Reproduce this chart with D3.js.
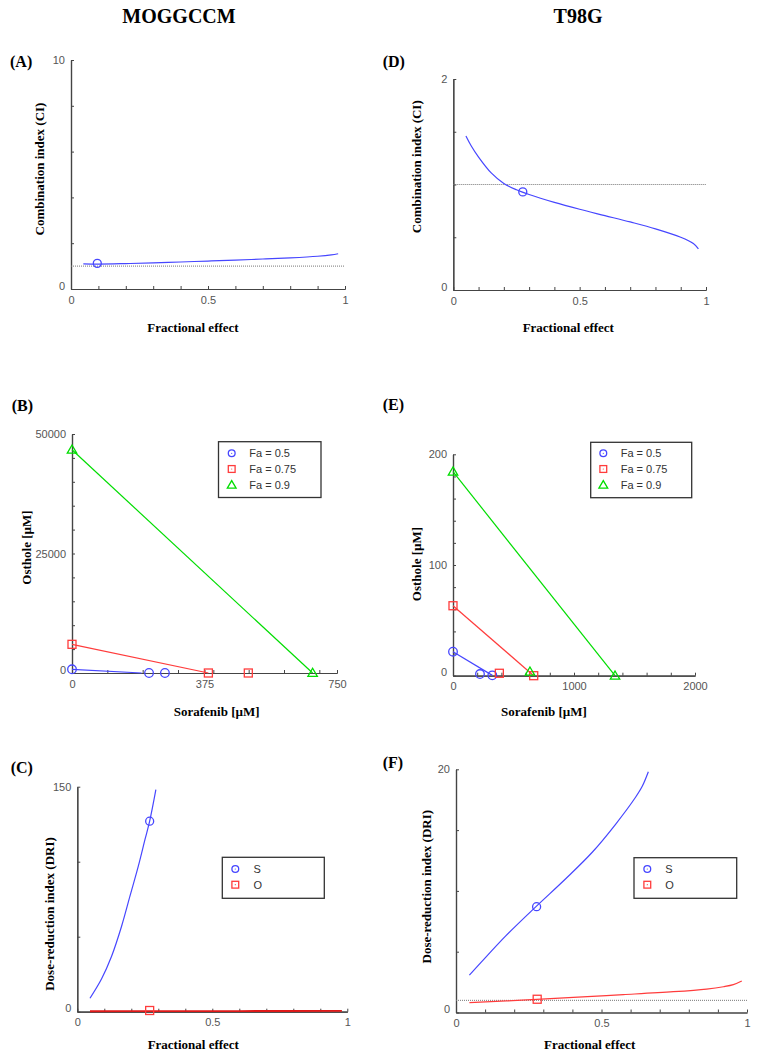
<!DOCTYPE html>
<html><head><meta charset="utf-8">
<script src="https://cdn.jsdelivr.net/npm/d3@7"></script>
<style>
body{margin:0;background:#fff}
svg text{font-family:"Liberation Sans",Arial,sans-serif}
.serif{font-family:"Liberation Serif","Times New Roman",serif;font-weight:bold;fill:#000}
</style></head><body>
<svg id="c" width="760" height="1055"></svg>
<script>
// ---------------- DATA ----------------
const columnTitles = ["MOGGCCM", "T98G"];
const panelLetters = ["(A)", "(B)", "(C)", "(D)", "(E)", "(F)"];
const faLegend = ["Fa = 0.5", "Fa = 0.75", "Fa = 0.9"];
const driLegend = ["S", "O"];

// (A) CI vs Fa, MOGGCCM
const ciA_curve = [[0.045,1.10],[0.1,1.09],[0.2,1.11],[0.3,1.14],[0.4,1.18],[0.5,1.22],[0.6,1.26],[0.7,1.31],[0.8,1.36],[0.9,1.43],[0.95,1.49],[0.975,1.54]];
const ciA_point = [[0.096,1.12]];
// (D) CI vs Fa, T98G
const ciD_curve = [[0.05,1.46],[0.07,1.37],[0.1,1.26],[0.15,1.11],[0.2,1.01],[0.25,0.95],[0.3,0.905],[0.4,0.83],[0.5,0.765],[0.6,0.705],[0.7,0.645],[0.8,0.58],[0.9,0.50],[0.95,0.44],[0.97,0.39]];
const ciD_point = [[0.275,0.93]];

// (B) isobologram MOGGCCM: [sorafenib, osthole]
const isoB_line50 = [[0,770],[197,0]];
const isoB_pts50 = [[0,770],[218,0],[263,0]];
const isoB_line75 = [[0,6000],[386,0]];
const isoB_pts75 = [[0,6000],[386,0],[499,0]];
const isoB_line90 = [[0,46700],[681,0]];
const isoB_pts90 = [[0,46700],[681,0]];

// (E) isobologram T98G
const isoE_line50 = [[0,21.7],[325,0.3]];
const isoE_pts50 = [[0,21.7],[223,1.5],[325,0.3]];
const isoE_line75 = [[0,63.2],[667,0]];
const isoE_pts75 = [[0,63.2],[383,2.2],[667,0]];
const isoE_line90 = [[0,184.3],[1339,0]];
const isoE_pts90 = [[0,184.3],[636,3.6],[1339,0]];

// (C) DRI vs Fa, MOGGCCM
const driC_S = [[0.047,9],[0.09,22],[0.127,37],[0.164,57],[0.195,77],[0.226,97],[0.251,115],[0.268,127],[0.291,148]];
const driC_Spt = [[0.268,127]];
const driC_O = [[0.047,0.3],[0.3,0.4],[0.6,0.45],[0.98,0.5]];
const driC_Opt = [[0.268,0.8]];
// (F) DRI vs Fa, T98G
const driF_S = [[0.046,3.07],[0.086,4.12],[0.171,6.3],[0.274,8.69],[0.377,11.0],[0.469,13.2],[0.549,15.5],[0.617,17.7],[0.64,18.6],[0.661,19.8]];
const driF_Spt = [[0.277,8.7]];
const driF_O = [[0.046,0.81],[0.174,0.95],[0.277,1.08],[0.403,1.25],[0.575,1.47],[0.747,1.71],[0.861,1.93],[0.919,2.12],[0.953,2.29],[0.982,2.59]];
const driF_Opt = [[0.279,1.09]];

// tick values
const faTicks = [0, 0.5, 1];
const faMinor = [0.1,0.2,0.3,0.4,0.6,0.7,0.8,0.9];
const ciA_yTicks = [0, 10], ciA_yMinor = [2,4,6,8];
const ciD_yTicks = [0, 2], ciD_yMinor = [0.5,1,1.5];
const isoB_xTicks = [0, 375, 750], isoB_xMinor = [100,200,300,400,500,600,700];
const isoB_yTicks = [0, 25000, 50000], isoB_yMinor = [5000,10000,15000,20000,30000,35000,40000,45000];
const isoE_xTicks = [0, 1000, 2000], isoE_xMinor = [200,400,600,800,1200,1400,1600,1800];
const isoE_yTicks = [0, 100, 200], isoE_yMinor = [20,40,60,80,120,140,160,180];
const driC_yTicks = [0, 150], driC_yMinor = [50,100];
const driF_yTicks = [0, 20], driF_yMinor = [5,10,15];

// ---------------- DRAW ----------------
const BLUE = "#4646ff", RED = "#ff3c3c", GREEN = "#00dd00";
const AX = "#444", TL = "#555";
const svg = d3.select("#c");

function makeAxes(p) {
  const x = d3.scaleLinear().domain(p.xd).range(p.xr);
  const y = d3.scaleLinear().domain(p.yd).range(p.yr);
  const g = svg.append("g");
  const style = sel => {
    sel.selectAll("path.domain").attr("stroke", AX).attr("stroke-width", 1.2);
    sel.selectAll(".tick line").attr("stroke", AX);
    sel.selectAll(".tick text").attr("fill", TL).attr("font-size", 11)
      .attr("font-family", "'Liberation Sans', Arial, sans-serif");
  };
  g.append("g").attr("transform", `translate(0,${p.yr[0]})`)
    .call(d3.axisBottom(x).tickValues(p.xMinor).tickSizeInner(-3).tickSizeOuter(0).tickFormat(""))
    .call(style);
  g.append("g").attr("transform", `translate(0,${p.yr[0]})`)
    .call(d3.axisBottom(x).tickValues(p.xTicks).tickSizeInner(-3).tickSizeOuter(0).tickPadding(7).tickFormat(d => String(d)))
    .call(style);
  g.append("g").attr("transform", `translate(${p.xr[0]},0)`)
    .call(d3.axisLeft(y).tickValues(p.yMinor).tickSizeInner(-3).tickSizeOuter(0).tickFormat(""))
    .call(style);
  const ya = g.append("g").attr("transform", `translate(${p.xr[0]},0)`)
    .call(d3.axisLeft(y).tickValues(p.yTicks).tickSizeInner(-3).tickSizeOuter(0).tickPadding(6).tickFormat(d => String(d)))
    .call(style);
  ya.selectAll(".tick").filter(d => d === 0).select("text").attr("y", -3.5);
  g.append("text").attr("class", "serif").attr("font-size", 13).attr("text-anchor", "middle")
    .attr("dominant-baseline", "central").attr("x", p.xl[0]).attr("y", p.xl[1]).text(p.xTitle);
  g.append("text").attr("class", "serif").attr("font-size", 13).attr("text-anchor", "middle")
    .attr("dominant-baseline", "central")
    .attr("transform", `translate(${p.yl[0]},${p.yl[1]}) rotate(-90)`).text(p.yTitle);
  g.append("text").attr("class", "serif").attr("font-size", 16)
    .attr("x", p.letterPos[0]).attr("y", p.letterPos[1]).text(p.letter);
  return {x, y, g};
}

function curve(P, data, color, w) {
  P.g.append("path").datum(data).attr("fill", "none").attr("stroke", color).attr("stroke-width", w || 1.2)
    .attr("d", d3.line().x(d => P.x(d[0])).y(d => P.y(d[1])).curve(d3.curveCatmullRom.alpha(0.5)));
}
function straight(P, data, color) {
  P.g.append("path").datum(data).attr("fill", "none").attr("stroke", color).attr("stroke-width", 1.2)
    .attr("d", d3.line().x(d => P.x(d[0])).y(d => P.y(d[1])));
}
function dotted(P, yv) {
  P.g.append("line").attr("x1", P.x(0)).attr("x2", P.x(1)).attr("y1", P.y(yv)).attr("y2", P.y(yv))
    .attr("stroke", "#777").attr("stroke-width", 1).attr("stroke-dasharray", "1,1");
}
function marker(g, type, cx, cy, color, s, dot) {
  if (type === "circle") {
    g.append("circle").attr("cx", cx).attr("cy", cy).attr("r", s).attr("fill", "none").attr("stroke", color).attr("stroke-width", 1.3);
  } else if (type === "square") {
    g.append("rect").attr("x", cx - s).attr("y", cy - s).attr("width", 2 * s).attr("height", 2 * s)
      .attr("fill", "none").attr("stroke", color).attr("stroke-width", 1.3);
  } else {
    g.append("path").attr("d", `M${cx},${cy - s * 1.1}L${cx + s * 1.1},${cy + s * 0.8}L${cx - s * 1.1},${cy + s * 0.8}Z`)
      .attr("fill", "none").attr("stroke", color).attr("stroke-width", 1.3);
  }
  if (dot) g.append("circle").attr("cx", cx).attr("cy", cy).attr("r", 0.6).attr("fill", color);
}
function points(P, data, type, color, s) {
  data.forEach(d => marker(P.g, type, P.x(d[0]), P.y(d[1]), color, s));
}
function legend(box, mx, tx, rows, items) {
  const g = svg.append("g");
  g.append("rect").attr("x", box[0]).attr("y", box[1]).attr("width", box[2] - box[0]).attr("height", box[3] - box[1])
    .attr("fill", "#fff").attr("stroke", "#333").attr("stroke-width", 1.3);
  items.forEach((it, i) => {
    marker(g, it.type, mx, rows[i], it.color, it.type === "triangle" ? 4 : 3.4, it.type !== "triangle");
    g.append("text").attr("x", tx).attr("y", rows[i]).attr("dominant-baseline", "central")
      .attr("font-size", 11).attr("fill", "#333").text(it.label);
  });
}

svg.append("text").attr("class", "serif").attr("font-size", 20).attr("text-anchor", "middle").attr("x", 179).attr("y", 23).text(columnTitles[0]);
svg.append("text").attr("class", "serif").attr("font-size", 20).attr("text-anchor", "middle").attr("x", 578).attr("y", 22.5).text(columnTitles[1]);

// (A)
const PA = makeAxes({xd:[0,1], xr:[71,345], yd:[0,10], yr:[289,60], xTicks:faTicks, xMinor:faMinor,
  yTicks:ciA_yTicks, yMinor:ciA_yMinor, xTitle:"Fractional effect", yTitle:"Combination index (CI)",
  xl:[193,327], yl:[39.5,169], letter:panelLetters[0], letterPos:[10,66.5]});
dotted(PA, 1);
curve(PA, ciA_curve, BLUE);
points(PA, ciA_point, "circle", BLUE, 4);

// (D)
const PD = makeAxes({xd:[0,1], xr:[453.3,706], yd:[0,2], yr:[290,79], xTicks:faTicks, xMinor:faMinor,
  yTicks:ciD_yTicks, yMinor:ciD_yMinor, xTitle:"Fractional effect", yTitle:"Combination index (CI)",
  xl:[568.3,327], yl:[416.7,166.7], letter:panelLetters[3], letterPos:[382.7,66.7]});
dotted(PD, 1);
curve(PD, ciD_curve, BLUE);
points(PD, ciD_point, "circle", BLUE, 4);

// (B)
const PB = makeAxes({xd:[0,750], xr:[72,337], yd:[0,50000], yr:[673,434], xTicks:isoB_xTicks, xMinor:isoB_xMinor,
  yTicks:isoB_yTicks, yMinor:isoB_yMinor, xTitle:"Sorafenib [\u00b5M]", yTitle:"Osthole [\u00b5M]",
  xl:[216.7,711.7], yl:[26,547.5], letter:panelLetters[1], letterPos:[11.7,411]});
straight(PB, isoB_line90, GREEN);
straight(PB, isoB_line75, RED);
straight(PB, isoB_line50, BLUE);
points(PB, isoB_pts50, "circle", BLUE, 4.3);
points(PB, isoB_pts75, "square", RED, 4);
points(PB, isoB_pts90, "triangle", GREEN, 4.3);
legend([218.5,441.7,321,497.5], 231.7, 249.3, [453.3,469,485], [
  {type:"circle", color:BLUE, label:faLegend[0]},
  {type:"square", color:RED, label:faLegend[1]},
  {type:"triangle", color:GREEN, label:faLegend[2]}]);

// (E)
const PE = makeAxes({xd:[0,2000], xr:[453,695], yd:[0,200], yr:[675.7,454.3], xTicks:isoE_xTicks, xMinor:isoE_xMinor,
  yTicks:isoE_yTicks, yMinor:isoE_yMinor, xTitle:"Sorafenib [\u00b5M]", yTitle:"Osthole [\u00b5M]",
  xl:[544,711.7], yl:[416.7,564], letter:panelLetters[4], letterPos:[382.7,410]});
straight(PE, isoE_line90, GREEN);
straight(PE, isoE_line75, RED);
straight(PE, isoE_line50, BLUE);
points(PE, isoE_pts50, "circle", BLUE, 4.3);
points(PE, isoE_pts75, "square", RED, 4);
points(PE, isoE_pts90, "triangle", GREEN, 4.3);
legend([590.7,442.3,691.7,497.7], 603.3, 620.7, [453.3,469,485], [
  {type:"circle", color:BLUE, label:faLegend[0]},
  {type:"square", color:RED, label:faLegend[1]},
  {type:"triangle", color:GREEN, label:faLegend[2]}]);

// (C)
const PC = makeAxes({xd:[0,1], xr:[77.3,347.3], yd:[0,150], yr:[1011.7,786.7], xTicks:faTicks, xMinor:faMinor,
  yTicks:driC_yTicks, yMinor:driC_yMinor, xTitle:"Fractional effect", yTitle:"Dose-reduction index (DRI)",
  xl:[193.3,1044], yl:[49.3,914], letter:panelLetters[2], letterPos:[10.7,772.7]});
curve(PC, driC_O, "#e01818", 1.8);
curve(PC, driC_S, BLUE);
points(PC, driC_Spt, "circle", BLUE, 4);
points(PC, driC_Opt, "square", RED, 4);
legend([222.3,857.3,324.3,898.3], 235.3, 253.5, [869,884.7], [
  {type:"circle", color:BLUE, label:driLegend[0]},
  {type:"square", color:RED, label:driLegend[1]}]);

// (F)
const PF = makeAxes({xd:[0,1], xr:[456,747], yd:[0,20], yr:[1012.5,769.3], xTicks:faTicks, xMinor:faMinor,
  yTicks:driF_yTicks, yMinor:driF_yMinor, xTitle:"Fractional effect", yTitle:"Dose-reduction index (DRI)",
  xl:[589.7,1044], yl:[426.7,886.7], letter:panelLetters[5], letterPos:[382.7,768]});
dotted(PF, 1);
curve(PF, driF_O, RED);
curve(PF, driF_S, BLUE);
points(PF, driF_Spt, "circle", BLUE, 4);
points(PF, driF_Opt, "square", RED, 4);
legend([634,857.7,736.7,898.3], 647.3, 665.3, [869,884.7], [
  {type:"circle", color:BLUE, label:driLegend[0]},
  {type:"square", color:RED, label:driLegend[1]}]);
</script></body></html>
